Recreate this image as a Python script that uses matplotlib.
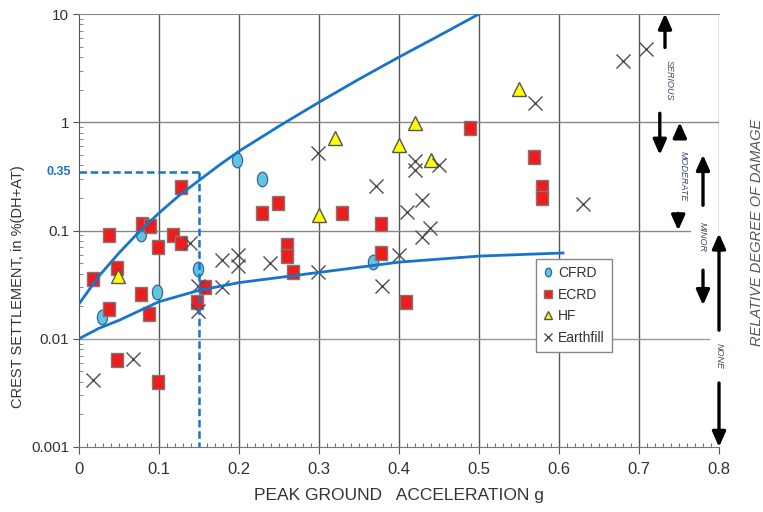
import numpy as np
import matplotlib
matplotlib.use("Agg")
import matplotlib.pyplot as plt
from matplotlib.path import Path
from matplotlib.ticker import FixedLocator, MultipleLocator, LogLocator, NullFormatter

plt.rcParams['font.family'] = ['Liberation Sans', 'DejaVu Sans']

# settlement data (PGA in g, settlement in %)
cfrd_x = [0.029, 0.0775, 0.0975, 0.149, 0.198, 0.229, 0.3675]
cfrd_y = [0.0158, 0.093, 0.027, 0.044, 0.45, 0.30, 0.051]

ecrd_x = [0.0175, 0.0475, 0.0375, 0.079, 0.089, 0.099, 0.118, 0.128, 0.1275,
          0.0375, 0.0775, 0.0875, 0.1475, 0.157, 0.0475, 0.099,
          0.229, 0.249, 0.329, 0.3775, 0.3775, 0.409, 0.26, 0.26, 0.2675,
          0.489, 0.569, 0.579, 0.579]
ecrd_y = [0.0355, 0.045, 0.091, 0.114, 0.11, 0.07, 0.091, 0.076, 0.25,
          0.019, 0.026, 0.017, 0.022, 0.030, 0.0063, 0.004,
          0.144, 0.18, 0.144, 0.114, 0.062, 0.022, 0.073, 0.058, 0.041,
          0.88, 0.475, 0.25, 0.20]

hf_x = [0.049, 0.30, 0.32, 0.40, 0.42, 0.44, 0.55]
hf_y = [0.038, 0.14, 0.71, 0.61, 0.98, 0.45, 2.05]

earth_x = [0.0175, 0.0675, 0.139, 0.149, 0.149, 0.179, 0.179, 0.199, 0.199,
           0.239, 0.299, 0.299, 0.371, 0.379, 0.40, 0.41, 0.42, 0.42,
           0.429, 0.429, 0.439, 0.45, 0.57, 0.63, 0.68, 0.709]
earth_y = [0.0042, 0.0065, 0.076, 0.031, 0.018, 0.053, 0.030, 0.060, 0.047,
           0.050, 0.52, 0.041, 0.26, 0.031, 0.059, 0.148, 0.44, 0.36,
           0.19, 0.087, 0.105, 0.40, 1.5, 0.175, 3.7, 4.8]

# upper / lower bound curves
upper_x = [0, 0.025, 0.05, 0.075, 0.1, 0.125, 0.15, 0.175, 0.2, 0.25, 0.3, 0.35, 0.4, 0.45, 0.5]
upper_y = [0.021, 0.038, 0.062, 0.097, 0.145, 0.21, 0.29, 0.40, 0.54, 0.92, 1.53, 2.5, 4.0, 6.3, 10]
lower_x = [0, 0.025, 0.05, 0.1, 0.15, 0.2, 0.3, 0.4, 0.5, 0.605]
lower_y = [0.01, 0.0125, 0.0148, 0.022, 0.028, 0.033, 0.041, 0.051, 0.058, 0.062]

pga_ref = 0.15
settle_ref = 0.35

xticks = [0, 0.1, 0.2, 0.3, 0.4, 0.5, 0.6, 0.7, 0.8]
xtick_labels = ["0", "0.1", "0.2", "0.3", "0.4", "0.5", "0.6", "0.7", "0.8"]
yticks = [0.001, 0.01, 0.1, 1, 10]
ytick_labels = ["0.001", "0.01", "0.1", "1", "10"]

blue = "#1874c8"
txt = "#333333"

fig = plt.figure(figsize=(7.63, 5.12), dpi=100)
ax = fig.add_axes([79 / 763, 65 / 512, 640 / 763, 433 / 512])
ax.set_yscale("log")
ax.set_xlim(0, 0.8)
ax.set_ylim(0.001, 10)

# grid
for xv in xticks[1:-1]:
    ax.axvline(xv, color="#555555", lw=1.0, zorder=1)
ax.axvline(0.8, ymin=0.5, color="#666666", lw=1.0, zorder=1)
ax.axhline(1, color="#888888", lw=1.0, zorder=1)
ax.axhline(0.1, xmax=0.955, color="#888888", lw=1.0, zorder=1)
ax.axhline(0.01, xmax=0.985, color="#999999", lw=1.0, zorder=1)

ax.spines["right"].set_visible(False)
ax.spines["top"].set_color("#888888")
ax.spines["left"].set_color("#555555")
ax.spines["bottom"].set_color("#777777")

# markers
ell = Path.unit_circle()
ell = Path(ell.vertices * np.array([0.7, 1.0]), ell.codes)
rect = [(-0.42, -0.5), (0.42, -0.5), (0.42, 0.5), (-0.42, 0.5), (-0.42, -0.5)]

ax.plot(cfrd_x, cfrd_y, ls="none", marker=ell, ms=10.5, mfc="#5ec6dd",
        mec="#3b5ea8", mew=0.9, label="CFRD", zorder=3)
ax.plot(ecrd_x, ecrd_y, ls="none", marker=rect, ms=10.5, mfc="#ee1c1c",
        mec="#7a7a7a", mew=1.0, label="ECRD", zorder=3)
ax.plot(hf_x, hf_y, ls="none", marker="^", ms=10.5, mfc="#ffff00",
        mec="#555555", mew=1.0, label="HF", zorder=3)
ax.plot(earth_x, earth_y, ls="none", marker="x", ms=10.5, mec="#4d4d4d",
        mew=1.0, label="Earthfill", zorder=3)

ax.plot(upper_x, upper_y, color=blue, lw=2.0, zorder=4)
ax.plot(lower_x, lower_y, color=blue, lw=2.0, zorder=4)
ax.plot([0, pga_ref], [settle_ref, settle_ref], color=blue, lw=1.8,
        ls=(0, (3, 1.5)), zorder=4)
ax.plot([pga_ref, pga_ref], [settle_ref, 0.001], color=blue, lw=1.8,
        ls=(0, (3, 1.5)), zorder=4)
ax.text(-0.012, settle_ref, "0.35", color=blue, fontsize=9, fontweight="bold",
        ha="right", va="center", transform=ax.get_yaxis_transform())

# ticks
ax.xaxis.set_major_locator(FixedLocator(xticks))
ax.set_xticklabels(xtick_labels)
ax.xaxis.set_minor_locator(MultipleLocator(0.01))
ax.yaxis.set_major_locator(FixedLocator(yticks))
ax.set_yticklabels(ytick_labels)
ax.yaxis.set_minor_locator(LogLocator(base=10, subs=np.arange(2, 10)))
ax.yaxis.set_minor_formatter(NullFormatter())
ax.tick_params(axis="x", which="major", length=5, color="#555555",
               labelsize=12, labelcolor=txt, pad=6)
ax.tick_params(axis="x", which="minor", direction="in", length=3, color="#555555")
ax.tick_params(axis="y", which="major", length=4, color="#555555",
               labelsize=11, labelcolor=txt, pad=3)
ax.tick_params(axis="y", which="minor", direction="in", length=3, color="#777777")

ax.set_xlabel("PEAK GROUND   ACCELERATION g", fontsize=12.5, color=txt, labelpad=8)
ax.set_ylabel("CREST SETTLEMENT, in %(DH+AT)", fontsize=10.5, color=txt)
ax.yaxis.set_label_coords(-0.085, 0.37)

leg = ax.legend(loc="upper left", bbox_to_anchor=(0.703, 0.45), fontsize=10,
                markerscale=0.6, handlelength=0.8, handletextpad=0.3,
                labelspacing=0.55, borderpad=0.5, fancybox=False,
                framealpha=1, edgecolor="#888888")
for t in leg.get_texts():
    t.set_color(txt)
leg.set_zorder(6)

# damage degree arrows
arrows = [
    ((0.7325, 10.1), (0.7325, 4.9)),
    ((0.726, 0.50), (0.726, 1.21)),
    ((0.751, 1.0), (0.751, 0.73)),
    ((0.749, 0.10), (0.749, 0.144)),
    ((0.78, 0.5), (0.78, 0.171)),
    ((0.78, 0.0204), (0.78, 0.043)),
    ((0.80, 0.094), (0.80, 0.012)),
    ((0.80, 0.001), (0.80, 0.0039)),
]
for head, tail in arrows:
    ax.annotate("", xy=head, xytext=tail, annotation_clip=False,
                arrowprops=dict(arrowstyle="-|>,head_length=0.9,head_width=0.4",
                                color="black", lw=2.4, shrinkA=0, shrinkB=0))

labels = [("SERIOUS", 0.7375, 2.44), ("MODERATE", 0.755, 0.32),
          ("MINOR", 0.779, 0.087), ("NONE", 0.80, 0.0069)]
for lab, lx, ly in labels:
    ax.text(lx, ly, lab, rotation=270, fontsize=6.5, style="italic",
            color="#3a4a6a", ha="center", va="center", clip_on=False)

fig.text(757 / 763, 1 - 232 / 512, "RELATIVE DEGREE OF DAMAGE", rotation=90,
         fontsize=10.5, style="italic", color="#555555", ha="center", va="center")

fig.savefig("out.png", dpi=100)
